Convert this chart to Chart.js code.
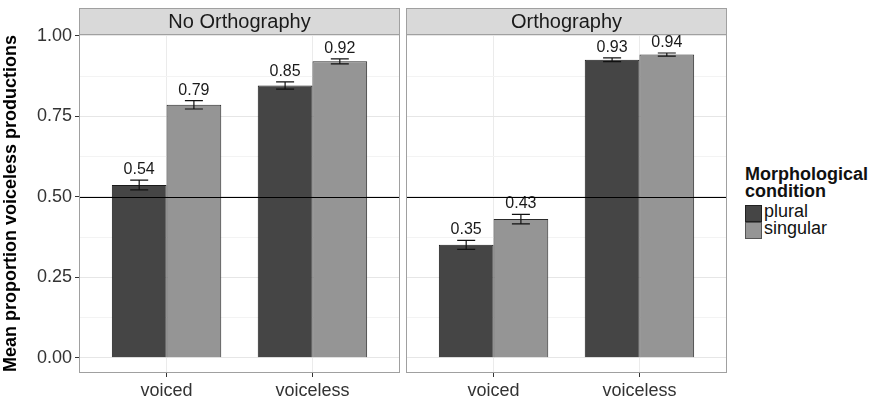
<!DOCTYPE html>
<html>
<head>
<meta charset="utf-8">
<script src="https://cdn.jsdelivr.net/npm/chart.js@4/dist/chart.umd.min.js"></script>
<style>
  body { margin: 0; background: #fff; width: 872px; height: 400px; overflow: hidden; position: relative; font-family: "Liberation Sans", Arial, sans-serif; }
  canvas { position: absolute; top: 0; }
  #leftPanel { left: 0; }
  #rightPanel { left: 403px; }
  .legend { position: absolute; left: 745px; top: 166px; color: #111; }
  .legend-title { font-weight: bold; font-size: 18px; line-height: 17px; }
  .legend-row { position: relative; height: 17px; font-size: 18px; line-height: 17px; }
  .legend-key { position: absolute; left: 0; top: 0; width: 17px; height: 17px; border: 1px solid #222; box-sizing: border-box; }
  .legend-row span { position: absolute; left: 19px; top: -2px; }
</style>
</head>
<body>
<canvas id="leftPanel" width="403" height="400"></canvas>
<canvas id="rightPanel" width="327" height="400"></canvas>
<div class="legend">
  <div class="legend-title">Morphological<br>condition</div>
  <div style="height:5px"></div>
  <div class="legend-row"><div class="legend-key" style="background:#454545"></div><span>plural</span></div>
  <div class="legend-row"><div class="legend-key" style="background:#959595;border-color:#555"></div><span>singular</span></div>
</div>
<script>
document.addEventListener('DOMContentLoaded', function () {
  // Data
  const categories = ['voiced', 'voiceless'];
  const panelTitles = ['No Orthography', 'Orthography'];
  const seriesNames = ['plural', 'singular'];

  const pluralNoOrth = [0.537, 0.846];
  const singularNoOrth = [0.786, 0.921];
  const pluralOrth = [0.351, 0.926];
  const singularOrth = [0.431, 0.942];

  const sePluralNoOrth = [0.015, 0.011];
  const seSingularNoOrth = [0.013, 0.008];
  const sePluralOrth = [0.014, 0.006];
  const seSingularOrth = [0.015, 0.005];

  const yTicks = [0, 0.25, 0.5, 0.75, 1.0];
  const yMinor = [0.125, 0.375, 0.625, 0.875];
  const refLine = 0.5;

  const colors = ['#454545', '#959595'];
  const font = '"Liberation Sans", Arial, sans-serif';

  // strip, panel border, error bars, value labels and the 0.5 line
  const panelPlugin = {
    id: 'panelDecor',
    beforeDraw(chart) {
      const { ctx, chartArea: a } = chart;
      ctx.save();
      ctx.fillStyle = '#d9d9d9';
      ctx.fillRect(a.left, 8, a.right - a.left, a.top - 8);
      ctx.strokeStyle = '#a0a0a0';
      ctx.lineWidth = 1;
      ctx.strokeRect(a.left + 0.5, 8.5, a.right - a.left - 1, a.top - 8);
      ctx.fillStyle = '#1a1a1a';
      ctx.font = '20px ' + font;
      ctx.textAlign = 'center';
      ctx.textBaseline = 'middle';
      ctx.fillText(chart.options.plugins.panelDecor.title, (a.left + a.right) / 2, 22);
      ctx.restore();
    },
    afterDatasetsDraw(chart) {
      const { ctx, chartArea: a, scales } = chart;
      const y = scales.y;
      const errs = chart.options.plugins.panelDecor.errors;
      ctx.save();
      chart.data.datasets.forEach((ds, di) => {
        const meta = chart.getDatasetMeta(di);
        meta.data.forEach((bar, i) => {
          const v = ds.data[i].y;
          const e = errs[di][i];
          const top = y.getPixelForValue(v + e);
          const bot = y.getPixelForValue(v - e);
          ctx.strokeStyle = '#111';
          ctx.lineWidth = 1.2;
          ctx.beginPath();
          ctx.moveTo(bar.x, top); ctx.lineTo(bar.x, bot);
          ctx.moveTo(bar.x - 9, top); ctx.lineTo(bar.x + 9, top);
          ctx.moveTo(bar.x - 9, bot); ctx.lineTo(bar.x + 9, bot);
          ctx.stroke();
          ctx.fillStyle = '#1a1a1a';
          ctx.font = '16px ' + font;
          ctx.textAlign = 'center';
          ctx.textBaseline = 'alphabetic';
          ctx.fillText(v.toFixed(2), bar.x, top - 6);
        });
      });
      const yl = Math.round(y.getPixelForValue(refLine)) + 0.5;
      ctx.strokeStyle = '#000';
      ctx.lineWidth = 1;
      ctx.beginPath();
      ctx.moveTo(a.left, yl); ctx.lineTo(a.right, yl);
      ctx.stroke();
      ctx.strokeStyle = '#a0a0a0';
      ctx.strokeRect(a.left + 0.5, a.top + 0.5, a.right - a.left - 1, a.bottom - a.top - 1);
      ctx.restore();
    }
  };

  function makePanel(canvasId, title, plural, singular, sePl, seSg, showY) {
    const allY = yTicks.concat(yMinor).sort((p, q) => p - q);
    return new Chart(document.getElementById(canvasId), {
      type: 'bar',
      data: {
        datasets: [
          { label: seriesNames[0], data: plural.map((v, i) => ({ x: i + 1, y: v })), backgroundColor: colors[0], borderColor: '#1a1a1a', borderWidth: 1 },
          { label: seriesNames[1], data: singular.map((v, i) => ({ x: i + 1, y: v })), backgroundColor: colors[1], borderColor: '#2a2a2a', borderWidth: 1 }
        ]
      },
      options: {
        responsive: false,
        animation: false,
        categoryPercentage: 0.75,
        barPercentage: 1.0,
        layout: { padding: { top: 34, right: 3, left: showY ? 0 : 3, bottom: 0 } },
        plugins: {
          legend: { display: false },
          tooltip: { enabled: false },
          panelDecor: { title: title, errors: [sePl, seSg] }
        },
        scales: {
          x: {
            type: 'linear',
            min: 0.4,
            max: 2.6,
            offset: false,
            afterBuildTicks: axis => { axis.ticks = categories.map((c, i) => ({ value: i + 1 })); },
            afterFit: axis => { axis.height = 27; },
            ticks: {
              callback: (v, i) => categories[i],
              autoSkip: false,
              maxRotation: 0,
              padding: 3,
              color: '#333',
              font: { family: font, size: 18 }
            },
            grid: { offset: false, color: '#ebebeb', tickColor: '#333', tickLength: 4 },
            border: { display: false }
          },
          y: {
            min: -0.047,
            max: 1.006,
            afterBuildTicks: axis => { axis.ticks = allY.map(v => ({ value: v })); },
            afterFit: axis => { axis.width = showY ? 79 : 0; },
            ticks: {
              display: showY,
              callback: v => yTicks.includes(v) ? v.toFixed(2) : '',
              padding: 3,
              color: '#333',
              font: { family: font, size: 18 }
            },
            grid: {
              drawTicks: showY,
              tickLength: 4,
              color: c => yTicks.includes(c.tick.value) ? '#e6e6e6' : '#f3f3f3',
              tickColor: c => yTicks.includes(c.tick.value) ? '#333' : 'rgba(0,0,0,0)'
            },
            border: { display: false },
            title: {
              display: showY,
              text: 'Mean proportion voiceless productions',
              color: '#000',
              font: { family: font, size: 18, weight: 'bold' },
              padding: { top: 0, bottom: 0 }
            }
          }
        }
      },
      plugins: [panelPlugin]
    });
  }

  makePanel('leftPanel', panelTitles[0], pluralNoOrth, singularNoOrth, sePluralNoOrth, seSingularNoOrth, true);
  makePanel('rightPanel', panelTitles[1], pluralOrth, singularOrth, sePluralOrth, seSingularOrth, false);
});
</script>
</body>
</html>
